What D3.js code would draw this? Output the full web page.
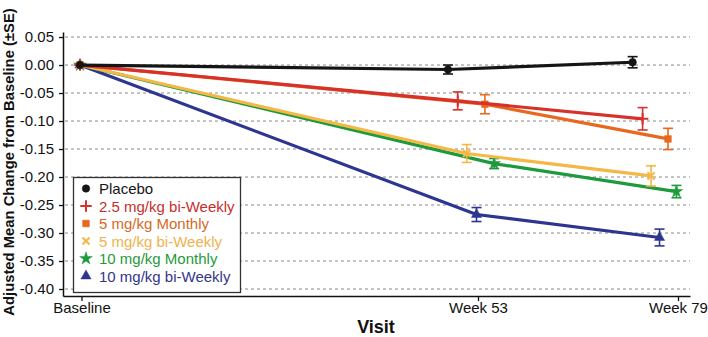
<!DOCTYPE html>
<html>
<head>
<meta charset="utf-8">
<script src="https://cdn.jsdelivr.net/npm/d3@7"></script>
<style>
  body { margin: 0; background: #fff; }
  svg { font-family: "Liberation Sans", Arial, sans-serif; }
</style>
</head>
<body>
<div id="chart"></div>
<script>
// visits on the x axis
const visitLabels = ["Baseline", "Week 53", "Week 79"];
const visitWeeks = [0, 53, 79];

// treatment groups
const groupNames = ["Placebo", "2.5 mg/kg bi-Weekly", "5 mg/kg Monthly",
  "5 mg/kg bi-Weekly", "10 mg/kg Monthly", "10 mg/kg bi-Weekly"];
const groupColors = ["#151515", "#d6312a", "#e8681e", "#f4b847", "#1c9a3c", "#2c3590"];
const groupTextColors = ["#151515", "#c5302c", "#d66a1e", "#efb24e", "#1f9a3a", "#33368a"];
const groupSymbols = ["circle", "plus", "square", "times", "star", "triangle"];

// actual mean study week of each assessment, per group
const groupWeeks = [
  [0, 49.0, 73.1],
  [0, 50.3, 74.4],
  [0, 53.9, 77.7],
  [0, 51.5, 75.5],
  [0, 55.1, 78.8],
  [0, 52.8, 76.6]
];

// adjusted mean change from baseline
const groupMeans = [
  [0, -0.008, 0.005],
  [0, -0.064, -0.096],
  [0, -0.070, -0.132],
  [0, -0.158, -0.198],
  [0, -0.176, -0.226],
  [0, -0.267, -0.308]
];

// standard errors
const groupSE = [
  [0, 0.008, 0.010],
  [0, 0.016, 0.020],
  [0, 0.017, 0.019],
  [0, 0.016, 0.018],
  [0, 0.009, 0.011],
  [0, 0.0125, 0.015]
];

const yTicks = [0.05, 0, -0.05, -0.10, -0.15, -0.20, -0.25, -0.30, -0.35, -0.40];

const width = 708, height = 337;
const svg = d3.select("#chart").append("svg")
  .attr("width", width)
  .attr("height", height);

const x = d3.scaleLinear()
  .domain([-2.2, 0, 53, 79, 80.6])
  .range([63, 80, 478, 678, 690]);

const y = d3.scaleLinear()
  .domain([-0.4125, 0.059])
  .range([296, 32]);

// dashed gridlines
svg.append("g")
  .selectAll("line")
  .data(yTicks)
  .join("line")
  .attr("x1", 65)
  .attr("x2", 690)
  .attr("y1", d => y(d))
  .attr("y2", d => y(d))
  .attr("stroke", "#8a8a8a")
  .attr("stroke-width", 1)
  .attr("stroke-dasharray", "3,3");

// y axis
const yAxis = svg.append("g")
  .attr("transform", "translate(63,0)")
  .call(d3.axisLeft(y).tickValues(yTicks).tickSize(4).tickSizeOuter(0)
    .tickFormat(d3.format(".2f")));
yAxis.select(".domain").attr("stroke", "#111").attr("stroke-width", 1.5);
yAxis.selectAll(".tick line").attr("stroke", "#111").attr("stroke-width", 1.3);
yAxis.selectAll(".tick text")
  .attr("x", -9)
  .attr("fill", "#111")
  .style("font-size", "15px")
  .style("font-family", "Liberation Sans, Arial, sans-serif")
  .text(d => d3.format(".2f")(d).replace("−", "-"));

// x axis
const xAxis = svg.append("g")
  .attr("transform", "translate(0,296)")
  .call(d3.axisBottom(x).tickValues(visitWeeks).tickSize(5).tickSizeOuter(0)
    .tickFormat((d, i) => visitLabels[i]));
xAxis.select(".domain").attr("stroke", "#111").attr("stroke-width", 1.5);
xAxis.selectAll(".tick line").attr("stroke", "#111").attr("stroke-width", 1.3);
xAxis.selectAll(".tick text")
  .attr("y", 6)
  .attr("fill", "#111")
  .style("font-size", "15px")
  .style("font-family", "Liberation Sans, Arial, sans-serif");
xAxis.selectAll(".tick")
  .filter(d => d === 0)
  .attr("transform", "translate(" + 82 + ",0)");

// axis titles
svg.append("text")
  .attr("x", 376)
  .attr("y", 333)
  .attr("text-anchor", "middle")
  .attr("font-weight", "bold")
  .attr("font-size", "18px")
  .attr("fill", "#111")
  .text("Visit");

svg.append("text")
  .attr("transform", "translate(14,162) rotate(-90)")
  .attr("text-anchor", "middle")
  .attr("font-weight", "bold")
  .attr("font-size", "14.8px")
  .attr("fill", "#111")
  .text("Adjusted Mean Change from Baseline (±SE)");

function symbolFor(name) {
  return {
    circle: d3.symbolCircle, plus: d3.symbolPlus, square: d3.symbolSquare,
    times: d3.symbolTimes, star: d3.symbolStar, triangle: d3.symbolTriangle
  }[name];
}
function isStroked(name) {
  return name === "plus" || name === "times";
}
function symbolSize(name) {
  return { circle: 45, plus: 45, square: 45, times: 35, star: 50, triangle: 45 }[name];
}

const line = d3.line()
  .x(d => x(d.week))
  .y(d => y(d.mean));

// series: drawn back to front so placebo sits on top
const order = [5, 4, 3, 2, 1, 0];
order.forEach(g => {
  const pts = groupWeeks[g].map((w, i) => ({
    week: w, mean: groupMeans[g][i], se: groupSE[g][i]
  }));
  const color = groupColors[g];
  const grp = svg.append("g");

  grp.append("path")
    .datum(pts)
    .attr("d", line)
    .attr("fill", "none")
    .attr("stroke", color)
    .attr("stroke-width", 3.2)
    .attr("stroke-linejoin", "round");

  // error bars
  const eb = grp.selectAll(".eb")
    .data(pts.filter(d => d.se > 0))
    .join("g");
  eb.append("line")
    .attr("x1", d => x(d.week)).attr("x2", d => x(d.week))
    .attr("y1", d => y(d.mean + d.se)).attr("y2", d => y(d.mean - d.se))
    .attr("stroke", color).attr("stroke-width", 1.6);
  [1, -1].forEach(s => {
    eb.append("line")
      .attr("x1", d => x(d.week) - 5).attr("x2", d => x(d.week) + 5)
      .attr("y1", d => y(d.mean + s * d.se)).attr("y2", d => y(d.mean + s * d.se))
      .attr("stroke", color).attr("stroke-width", 1.6);
  });

  // markers
  const sym = groupSymbols[g];
  grp.selectAll(".mk")
    .data(pts)
    .join("path")
    .attr("transform", d => "translate(" + x(d.week) + "," + y(d.mean) + ")")
    .attr("d", d3.symbol().type(symbolFor(sym)).size(symbolSize(sym)))
    .attr("fill", isStroked(sym) ? "none" : color)
    .attr("stroke", color)
    .attr("stroke-width", isStroked(sym) ? 2 : 0.5);
});

// legend
const legend = svg.append("g");
legend.append("rect")
  .attr("x", 73.5)
  .attr("y", 177.5)
  .attr("width", 167)
  .attr("height", 115)
  .attr("fill", "#fff")
  .attr("stroke", "#333")
  .attr("stroke-width", 1.3);

groupNames.forEach((name, i) => {
  const ly = 188.5 + i * 17.5;
  const sym = groupSymbols[i];
  legend.append("path")
    .attr("transform", "translate(86," + ly + ")")
    .attr("d", d3.symbol().type(symbolFor(sym)).size(symbolSize(sym)))
    .attr("fill", isStroked(sym) ? "none" : groupColors[i])
    .attr("stroke", groupColors[i])
    .attr("stroke-width", isStroked(sym) ? 2 : 0.5);
  legend.append("text")
    .attr("x", 99)
    .attr("y", ly + 5.5)
    .attr("font-size", "15px")
    .attr("fill", groupTextColors[i])
    .text(name);
});
</script>
</body>
</html>
